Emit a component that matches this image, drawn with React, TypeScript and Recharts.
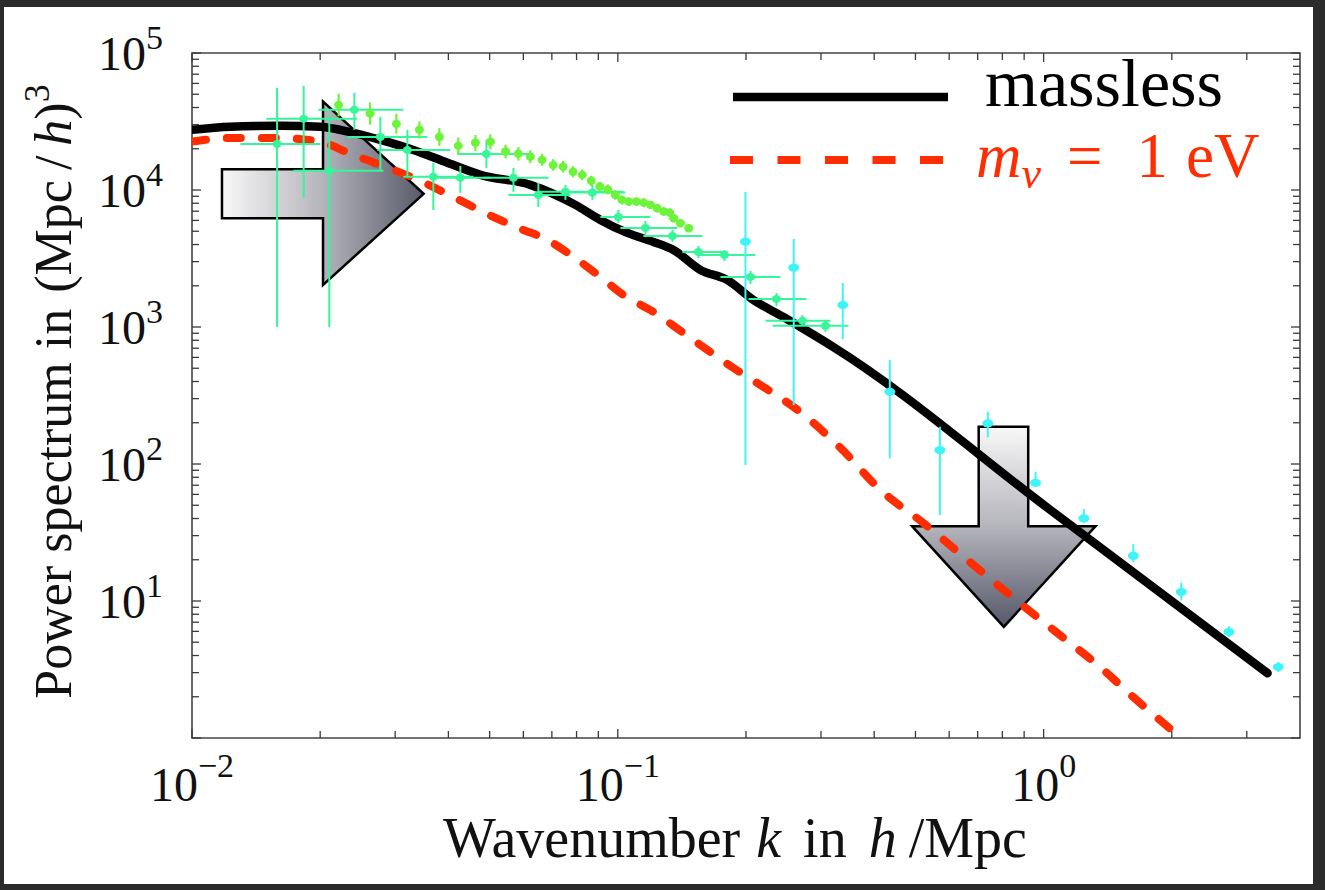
import React from 'react'
import {
  ComposedChart,
  Line,
  Scatter,
  XAxis,
  YAxis,
  ErrorBar,
  ReferenceArea,
  Legend,
} from 'recharts'

// theory curves: k in h/Mpc, P(k) in (Mpc/h)^3
const masslessK = [0.01, 0.0123, 0.0161, 0.02, 0.0239, 0.0277, 0.0331, 0.0398, 0.0476, 0.0623, 0.0795, 0.091, 0.1053, 0.1212, 0.1351, 0.1563, 0.1809, 0.2082, 0.2449, 0.2835, 0.321, 1.038, 3.357]
const masslessP = [27500, 29000, 29400, 28900, 26100, 23200, 19600, 15800, 12900, 10900, 7790, 6050, 4860, 4180, 3650, 2610, 2200, 1575, 1183, 904, 714, 46.1, 2.97]

const massiveK = [0.01, 0.0125, 0.0159, 0.02, 0.0239, 0.0277, 0.0331, 0.0411, 0.051, 0.06, 0.0669, 0.0787, 0.091, 0.1031, 0.1212, 0.1426, 0.1624, 0.1869, 0.2163, 0.2685, 0.3334, 0.414, 0.5223, 0.6628, 0.85, 1.078, 1.36, 1.626, 2.097, 2.337]
const massiveP = [22600, 24000, 24000, 22450, 18050, 15250, 12260, 8900, 6360, 5110, 4470, 3250, 2320, 1710, 1290, 904, 679, 502, 377, 239, 131, 64.5, 37, 19.9, 10.5, 5.82, 3.28, 1.98, 1.0, 0.735]

// galaxy survey band powers (x and y error bars)
const surveyK = [0.01584, 0.01829, 0.02101, 0.02406, 0.02769, 0.03205, 0.03688, 0.04268, 0.04914, 0.05686, 0.06508, 0.07534, 0.08716, 0.1003, 0.1161, 0.1344, 0.1546, 0.178, 0.2049, 0.2358, 0.2714, 0.3074]
const surveyP = [21700, 33100, 13800, 38500, 24400, 19600, 12500, 12300, 18350, 12300, 9210, 9730, 9570, 6360, 5290, 4620, 3530, 3360, 2320, 1600, 1110, 1020]
const surveyKLo = [0.01299, 0.01495, 0.0173, 0.0198, 0.02316, 0.02725, 0.03136, 0.03629, 0.042, 0.04836, 0.05534, 0.06473, 0.07334, 0.091, 0.1014, 0.1148, 0.1418, 0.1538, 0.1742, 0.2027, 0.2222, 0.2308]
const surveyKHi = [0.02, 0.02445, 0.02814, 0.03136, 0.0357, 0.04044, 0.0458, 0.05022, 0.06232, 0.06871, 0.07741, 0.1031, 0.1042, 0.1193, 0.138, 0.158, 0.1809, 0.2105, 0.241, 0.2773, 0.3158, 0.3481]
const surveyPLo = [1000, 8760, 1000, 27500, 14000, 12500, 7150, 9520, 14500, 9690, 7520, 8470, 8470, 5750, 4780, 4180, 3190, 3030, 2060, 1420, 1020, 920]
const surveyPHi = [55700, 57600, 35400, 51200, 34200, 27500, 15800, 15000, 23200, 14500, 11270, 10900, 10900, 7150, 5950, 5110, 3910, 3650, 2570, 1770, 1220, 1125]

// dense galaxy sample (y error bars only)
const denseK = [0.0221, 0.0262, 0.0302, 0.0342, 0.0381, 0.0422, 0.0463, 0.0502, 0.0545, 0.0584, 0.0623, 0.0664, 0.0705, 0.0744, 0.0785, 0.0825, 0.0866, 0.0907, 0.0947, 0.0987, 0.1023, 0.1061, 0.1106, 0.115, 0.1193, 0.1237, 0.1282, 0.1324, 0.1353, 0.1403, 0.1467]
const denseP = [41800, 36100, 30400, 27500, 24400, 21000, 22100, 22500, 19100, 18400, 17500, 16600, 15200, 14800, 13600, 12900, 11700, 10600, 10100, 9200, 8470, 8230, 8230, 8090, 7790, 7370, 6960, 6840, 6220, 5720, 5260]
const densePLo = [34500, 30000, 25800, 23800, 21000, 18200, 19300, 19800, 17000, 16400, 15700, 15000, 13800, 13400, 12400, 11800, 10700, 9700, 9300, 8500, 7850, 7650, 7650, 7500, 7250, 6850, 6480, 6370, 5800, 5340, 4920]
const densePHi = [50500, 43500, 36000, 31600, 28300, 24200, 25200, 25500, 21400, 20600, 19500, 18400, 16800, 16300, 14900, 14100, 12700, 11500, 11000, 10000, 9150, 8850, 8850, 8700, 8350, 7900, 7470, 7340, 6670, 6130, 5620]

// small-scale points (y error bars only)
const smallK = [0.1994, 0.2589, 0.3375, 0.4352, 0.5706, 0.7394, 0.9572, 1.243, 1.624, 2.105, 2.723, 3.557]
const smallP = [4200, 2711, 1448, 337, 126.4, 198, 72.9, 40.1, 21.35, 11.65, 5.95, 3.3]
const smallPLo = [98.2, 269, 817, 110, 42.3, 156.4, 68.2, 37, 19.2, 10.1, 5.44, 3.03]
const smallPHi = [9680, 4395, 2096, 574, 187, 240.6, 87.7, 46.8, 26, 13.56, 6.55, 3.59]

const xTicks = [0.01, 0.02, 0.03, 0.04, 0.05, 0.06, 0.07, 0.08, 0.09, 0.1, 0.2, 0.3, 0.4, 0.5, 0.6, 0.7, 0.8, 0.9, 1, 2, 3]
const yTicks = [1, 2, 3, 4, 5, 6, 7, 8, 9, 10, 20, 30, 40, 50, 60, 70, 80, 90, 100, 200, 300, 400, 500, 600, 700, 800, 900, 1000, 2000, 3000, 4000, 5000, 6000, 7000, 8000, 9000, 10000, 20000, 30000, 40000, 50000, 60000, 70000, 80000, 90000, 100000]

const X_DOMAIN: [number, number] = [0.01, 4]
const Y_DOMAIN: [number, number] = [1, 100000]

// annotation arrows, boxes given in k / P units
const shiftArrow = { x1: 0.01176, x2: 0.035, y1: 2030, y2: 44200 }
const dropArrow = { x1: 0.491, x2: 1.324, y1: 6.47, y2: 187 }

const SERIF = '"Liberation Serif", "Times New Roman", serif'
const RED = '#ff2d00'
const MINT = '#36f59a'
const LIME = '#6cf43a'
const CYAN = '#3ef4f6'
const AXIS = '#3a3a3a'

const PLOT_H = 685
const PLOT_W = 1108

const curve = (ks: number[], ps: number[]) => ks.map((k, i) => ({ k, P: ps[i] }))

const masslessData = curve(masslessK, masslessP)
const massiveData = curve(massiveK, massiveP)
const surveyData = surveyK.map((k, i) => ({
  k,
  P: surveyP[i],
  ex: [k - surveyKLo[i], surveyKHi[i] - k],
  ey: [surveyP[i] - surveyPLo[i], surveyPHi[i] - surveyP[i]],
}))
const denseData = denseK.map((k, i) => ({
  k,
  P: denseP[i],
  ey: [denseP[i] - densePLo[i], densePHi[i] - denseP[i]],
}))
const smallData = smallK.map((k, i) => ({
  k,
  P: smallP[i],
  ey: [smallP[i] - smallPLo[i], smallPHi[i] - smallP[i]],
}))

const isDecade = (v: number) => {
  const e = Math.round(Math.log10(v))
  return Math.abs(v - Math.pow(10, e)) < 1e-9 * v
}
const expText = (v: number) => {
  const e = Math.round(Math.log10(v))
  return e < 0 ? `\u2212${-e}` : `${e}`
}

function XTick(props: any) {
  const { x, y, payload } = props
  const v = payload.value
  const major = isDecade(v)
  const len = major ? 9 : 7
  return (
    <g>
      <line x1={x} y1={y} x2={x} y2={y - len} stroke={AXIS} strokeWidth={1.3} />
      <line x1={x} y1={y - PLOT_H} x2={x} y2={y - PLOT_H + len} stroke={AXIS} strokeWidth={1.3} />
      {major && (
        <text x={x} y={y + 63} textAnchor="middle" fontFamily={SERIF} fontSize={48} fill="#111">
          10
          <tspan dy={-24} fontSize={34}>{expText(v)}</tspan>
        </text>
      )}
    </g>
  )
}

function YTick(props: any) {
  const { x, y, payload } = props
  const v = payload.value
  const major = isDecade(v)
  const len = major ? 9 : 7
  return (
    <g>
      <line x1={x} y1={y} x2={x + len} y2={y} stroke={AXIS} strokeWidth={1.3} />
      <line x1={x + PLOT_W} y1={y} x2={x + PLOT_W - len} y2={y} stroke={AXIS} strokeWidth={1.3} />
      {major && v > 1 && (
        <text x={x - 29} y={y + 17} textAnchor="end" fontFamily={SERIF} fontSize={48} fill="#111">
          10
          <tspan dy={-21} fontSize={34}>{expText(v)}</tspan>
        </text>
      )}
    </g>
  )
}

function ShiftArrowShape(props: any) {
  const { x, y, width: w, height: h } = props
  const hx = x + 0.501 * w
  const pts = [
    [x, y + 0.369 * h],
    [hx, y + 0.369 * h],
    [hx, y],
    [x + w, y + 0.5035 * h],
    [hx, y + h],
    [hx, y + 0.636 * h],
    [x, y + 0.636 * h],
  ]
  return (
    <g>
      <defs>
        <linearGradient id="shiftGrad" x1="0" y1="0" x2="1" y2="0">
          <stop offset="0%" stopColor="#f8f8f8" />
          <stop offset="50%" stopColor="#b4b4bb" />
          <stop offset="100%" stopColor="#585a6a" />
        </linearGradient>
      </defs>
      <polygon points={pts.map((p) => p.join(',')).join(' ')} fill="url(#shiftGrad)" stroke="#000" strokeWidth={2.5} />
    </g>
  )
}

function DropArrowShape(props: any) {
  const { x, y, width: w, height: h } = props
  const hy = y + 0.4965 * h
  const pts = [
    [x + 0.363 * w, y],
    [x + 0.633 * w, y],
    [x + 0.633 * w, hy],
    [x + w, hy],
    [x + 0.5 * w, y + h],
    [x, hy],
    [x + 0.363 * w, hy],
  ]
  return (
    <g>
      <defs>
        <linearGradient id="dropGrad" x1="0" y1="0" x2="0" y2="1">
          <stop offset="0%" stopColor="#f8f8f8" />
          <stop offset="50%" stopColor="#b4b4bb" />
          <stop offset="100%" stopColor="#555769" />
        </linearGradient>
      </defs>
      <polygon points={pts.map((p) => p.join(',')).join(' ')} fill="url(#dropGrad)" stroke="#000" strokeWidth={2.5} />
    </g>
  )
}

function LegendBox() {
  return (
    <svg width={625} height={170} style={{ display: 'block', overflow: 'visible' }}>
      <line x1={33} y1={57} x2={248} y2={57} stroke="#000" strokeWidth={8.5} />
      <text x={285} y={66} fontFamily={SERIF} fontSize={68} fill="#000">
        massless
      </text>
      <line x1={30} y1={120} x2={246} y2={120} stroke={RED} strokeWidth={8} strokeDasharray="23 24.5" />
      <text x={276} y={137} fontFamily={SERIF} fontSize={63} fill={RED}>
        <tspan fontStyle="italic">m</tspan>
        <tspan fontStyle="italic" fontSize={44} dy={11}>
          ν
        </tspan>
        <tspan dy={-11} dx={26}>=</tspan>
        <tspan dx={34}>1</tspan>
        <tspan dx={18}>eV</tspan>
      </text>
    </svg>
  )
}

function YTitle(props: any) {
  const vb = props.viewBox
  const cy = vb.y + vb.height / 2 - 4
  return (
    <text
      x={71}
      y={cy}
      transform={`rotate(-90 71 ${cy})`}
      textAnchor="middle"
      fontFamily={SERIF}
      fontSize={52}
      fill="#111"
    >
      Power spectrum in
      <tspan dx={16}>(Mpc</tspan>
      <tspan dx={10}>/</tspan>
      <tspan dx={10} fontStyle="italic">h</tspan>
      <tspan>)</tspan>
      <tspan dy={-22} fontSize={36}>3</tspan>
    </text>
  )
}

function XTitle(props: any) {
  const vb = props.viewBox
  const cx = vb.x + vb.width / 2 - 11
  return (
    <text x={cx} y={vb.y + 119} textAnchor="middle" fontFamily={SERIF} fontSize={56} fill="#111">
      Wavenumber
      <tspan dx={16} fontStyle="italic">k</tspan>
      <tspan dx={22}>in</tspan>
      <tspan dx={22} fontStyle="italic">h</tspan>
      <tspan dx={12}>/Mpc</tspan>
    </text>
  )
}

export default function App() {
  return (
    <div style={{ position: 'fixed', left: 0, top: 0, width: 1325, height: 890, background: '#2b2b2c', overflow: 'hidden' }}>
      <div style={{ position: 'absolute', left: 4, top: 7, width: 1309, height: 877, background: '#fff' }} />
      <div style={{ position: 'absolute', left: 0, top: 0 }}>
        <ComposedChart width={1325} height={890} margin={{ top: 53, right: 25, bottom: 0, left: 0 }}>
          <XAxis
            dataKey="k"
            type="number"
            scale="log"
            domain={X_DOMAIN}
            allowDataOverflow
            ticks={xTicks}
            interval={0}
            tickSize={0}
            tickMargin={0}
            axisLine={false}
            tickLine={false}
            tick={<XTick />}
            height={152}
            label={<XTitle />}
          />
          <YAxis
            dataKey="P"
            type="number"
            scale="log"
            domain={Y_DOMAIN}
            allowDataOverflow
            ticks={yTicks}
            interval={0}
            tickSize={0}
            tickMargin={0}
            axisLine={false}
            tickLine={false}
            tick={<YTick />}
            width={192}
            label={<YTitle />}
          />
          <ReferenceArea {...shiftArrow} shape={<ShiftArrowShape />} />
          <ReferenceArea {...dropArrow} shape={<DropArrowShape />} />
          <ReferenceArea
            x1={X_DOMAIN[0]}
            x2={X_DOMAIN[1]}
            y1={Y_DOMAIN[0]}
            y2={Y_DOMAIN[1]}
            fill="none"
            stroke="#444"
            strokeWidth={1.6}
          />
          <Line
            data={massiveData}
            dataKey="P"
            type="monotone"
            stroke={RED}
            strokeWidth={8}
            strokeDasharray="14 21"
            strokeLinecap="round"
            dot={false}
            activeDot={false}
            isAnimationActive={false}
          />
          <Line
            data={masslessData}
            dataKey="P"
            type="monotone"
            stroke="#000"
            strokeWidth={8.5}
            strokeLinecap="round"
            dot={false}
            activeDot={false}
            isAnimationActive={false}
          />
          <Scatter
            data={surveyData}
            dataKey="P"
            isAnimationActive={false}
            shape={(p: any) => <ellipse cx={p.cx} cy={p.cy} rx={4.5} ry={4} fill={MINT} />}
          >
            <ErrorBar dataKey="ex" direction="x" width={0} stroke={MINT} strokeWidth={2} isAnimationActive={false} />
            <ErrorBar dataKey="ey" direction="y" width={0} stroke={MINT} strokeWidth={2} isAnimationActive={false} />
          </Scatter>
          <Scatter
            data={denseData}
            dataKey="P"
            isAnimationActive={false}
            shape={(p: any) => <ellipse cx={p.cx} cy={p.cy} rx={4.5} ry={4.2} fill={LIME} />}
          >
            <ErrorBar dataKey="ey" direction="y" width={0} stroke={LIME} strokeWidth={2.2} isAnimationActive={false} />
          </Scatter>
          <Scatter
            data={smallData}
            dataKey="P"
            isAnimationActive={false}
            shape={(p: any) => <ellipse cx={p.cx} cy={p.cy} rx={5.5} ry={4} fill={CYAN} />}
          >
            <ErrorBar dataKey="ey" direction="y" width={0} stroke={CYAN} strokeWidth={2} isAnimationActive={false} />
          </Scatter>
          <Legend
            layout="horizontal"
            verticalAlign="middle"
            align="center"
            content={() => <LegendBox />}
            wrapperStyle={{ position: 'absolute', left: 700, top: 40, width: 625, height: 170 }}
          />
        </ComposedChart>
      </div>
    </div>
  )
}
